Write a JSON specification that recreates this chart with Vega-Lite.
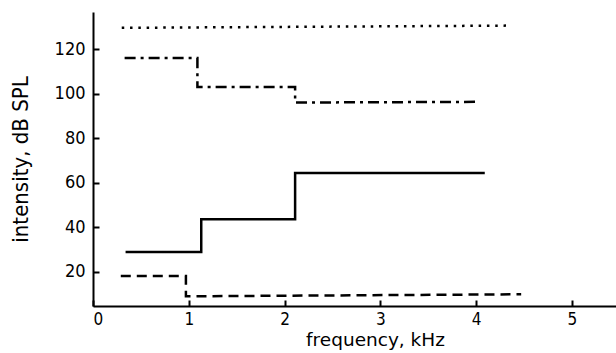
{
  "$schema": "https://vega.github.io/schema/vega-lite/v6.json",
  "width": 523,
  "height": 294,
  "autosize": "none",
  "padding": {"left": 93, "top": 12, "right": 0, "bottom": 47},
  "background": "white",
  "config": {
    "view": {"stroke": null},
    "font": "Liberation Sans Narrow, DejaVu Sans Condensed, Roboto"
  },
  "data": {
    "values": [
      {"series": "dotted", "i": 1, "f": 0.30, "dB": 129.5},
      {"series": "dotted", "i": 2, "f": 4.35, "dB": 130.5},
      {"series": "dashdot", "i": 1, "f": 0.33, "dB": 116},
      {"series": "dashdot", "i": 2, "f": 1.09, "dB": 116},
      {"series": "dashdot", "i": 3, "f": 1.09, "dB": 103},
      {"series": "dashdot", "i": 4, "f": 2.11, "dB": 103},
      {"series": "dashdot", "i": 5, "f": 2.11, "dB": 96},
      {"series": "dashdot", "i": 6, "f": 4.01, "dB": 96.3},
      {"series": "solid", "i": 1, "f": 0.34, "dB": 29},
      {"series": "solid", "i": 2, "f": 1.13, "dB": 29},
      {"series": "solid", "i": 3, "f": 1.13, "dB": 43.6},
      {"series": "solid", "i": 4, "f": 2.11, "dB": 43.6},
      {"series": "solid", "i": 5, "f": 2.11, "dB": 64.4},
      {"series": "solid", "i": 6, "f": 4.09, "dB": 64.4},
      {"series": "dashed", "i": 1, "f": 0.29, "dB": 18.2},
      {"series": "dashed", "i": 2, "f": 0.97, "dB": 18.2},
      {"series": "dashed", "i": 3, "f": 0.97, "dB": 9.1},
      {"series": "dashed", "i": 4, "f": 4.47, "dB": 10}
    ]
  },
  "mark": {"type": "line", "color": "black", "strokeWidth": 2.5, "strokeCap": "butt"},
  "encoding": {
    "x": {
      "field": "f", "type": "quantitative",
      "scale": {"domain": [0, 5.46], "nice": false, "zero": false},
      "axis": {
        "title": "frequency, kHz",
        "values": [0, 1, 2, 3, 4, 5],
        "grid": false,
        "domainColor": "black", "domainWidth": 2,
        "tickColor": "black", "tickWidth": 2, "tickSize": -6,
        "labelFontSize": 17, "labelColor": "black", "labelPadding": 11,
        "titleFontSize": 18.5, "titleColor": "black", "titleFontWeight": "normal",
        "titleFont": "DejaVu Sans",
        "titleX": 282, "titlePadding": 3
      }
    },
    "y": {
      "field": "dB", "type": "quantitative",
      "scale": {"domain": [4.75, 136.6], "nice": false, "zero": false},
      "axis": {
        "title": "intensity, dB SPL",
        "values": [20, 40, 60, 80, 100, 120],
        "grid": false,
        "domainColor": "black", "domainWidth": 2,
        "tickColor": "black", "tickWidth": 2, "tickSize": -6,
        "labelFontSize": 18, "labelColor": "black", "labelPadding": 14,
        "titleFontSize": 22, "titleColor": "black", "titleFontWeight": "normal",
        "titleFont": "DejaVu Sans Condensed, DejaVu Sans",
        "titlePadding": 22
      }
    },
    "detail": {"field": "series"},
    "order": {"field": "i", "type": "quantitative"},
    "strokeDash": {
      "field": "series", "type": "nominal", "legend": null,
      "scale": {
        "domain": ["dotted", "dashdot", "solid", "dashed"],
        "range": [[2.5, 5.8], [11, 5, 3, 5], [1, 0], [10, 6]]
      }
    }
  }
}
